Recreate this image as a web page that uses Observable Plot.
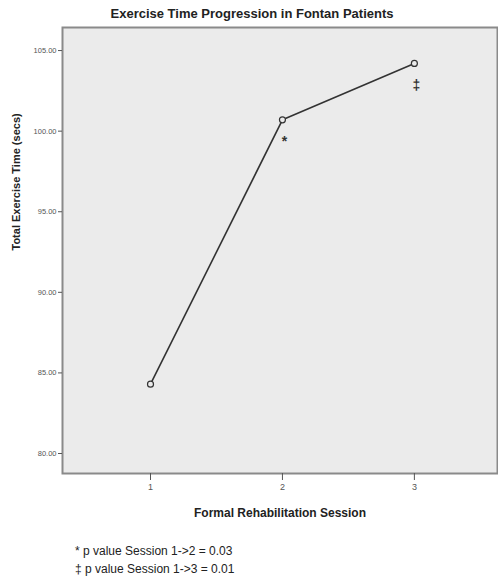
<!DOCTYPE html>
<html>
<head>
<meta charset="utf-8">
<script src="https://cdn.jsdelivr.net/npm/d3@7"></script>
<script src="https://cdn.jsdelivr.net/npm/@observablehq/plot@0.6"></script>
<style>
  body { margin: 0; background: #fff; width: 498px; height: 581px; overflow: hidden; }
  #title { height: 20px; padding-top: 6px; line-height: 20px; font: bold 13px "Liberation Sans", Arial, sans-serif; color: #222; width: 504px; text-align: center; box-sizing: content-box; }
  #notes { font: 12px "Liberation Sans", Arial, sans-serif; color: #222; padding-left: 75px; line-height: 18px; margin-top: -4px; }
  svg { display: block; }
</style>
</head>
<body>
<div id="title">Exercise Time Progression in Fontan Patients</div>
<div id="chart"></div>
<div id="notes">
  <div>* p value Session 1-&gt;2 = 0.03</div>
  <div>‡ p value Session 1-&gt;3 = 0.01</div>
</div>
<script>
const sessions = [1, 2, 3];
const exerciseTime = [84.3, 100.7, 104.2];
const significance = ["", "*", "‡"];
const yTicks = [80, 85, 90, 95, 100, 105];
const xTicks = [1, 2, 3];

const data = sessions.map((s, i) => ({session: s, time: exerciseTime[i], mark: significance[i]}));

const chart = Plot.plot({
  width: 498,
  height: 520,
  marginLeft: 62,
  marginRight: 1,
  marginTop: 1,
  marginBottom: 73,
  style: {fontFamily: "'Liberation Sans', Arial, sans-serif", fontSize: "8px", color: "#555"},
  x: {domain: [0.333, 3.63]},
  y: {domain: [78.76, 106.43]},
  marks: [
    Plot.frame({fill: "#ebebeb", stroke: "#8a8a8a", strokeWidth: 2}),
    Plot.axisX({ticks: xTicks, tickFormat: d => String(d), tickSize: 7, tickPadding: 3, label: null, stroke: "#555", fontSize: 9}),
    Plot.axisY({ticks: yTicks, tickFormat: d => d.toFixed(2), tickSize: 4, tickPadding: 2, label: null, stroke: "#555", fontSize: 7.5}),
    Plot.line(data, {x: "session", y: "time", stroke: "#333", strokeWidth: 1.6}),
    Plot.dot(data, {x: "session", y: "time", r: 3, stroke: "#333", fill: "#ebebeb", strokeWidth: 1.2}),
    Plot.text(data, {x: "session", y: "time", text: "mark", dy: 22, dx: 2, fontSize: 14, fill: "#333", fontWeight: "bold"}),
    Plot.text(["Total Exercise Time (secs)"], {frameAnchor: "left", rotate: -90, dx: -46, fontSize: 11, fontWeight: "bold", fill: "#222"}),
    Plot.text(["Formal Rehabilitation Session"], {frameAnchor: "bottom", dy: 43, fontSize: 12, fontWeight: "bold", fill: "#222"})
  ]
});
document.getElementById("chart").appendChild(chart);
</script>
</body>
</html>
